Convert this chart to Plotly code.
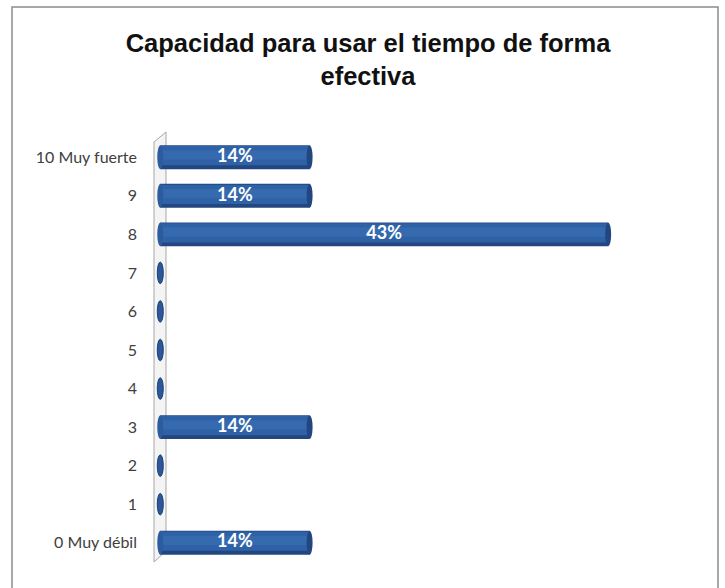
import plotly.graph_objects as go

# ---- data ----
categories = ["0 Muy débil", "1", "2", "3", "4", "5", "6", "7", "8", "9", "10 Muy fuerte"]
percentages = [14.29, 0, 0, 14.29, 0, 0, 0, 0, 42.86, 14.29, 14.29]
labels = [f"{v:.0f}%" if v > 0 else "" for v in percentages]
title_text = "Capacidad para usar el tiempo de forma<br>efectiva"

# ---- layout geometry ----
FW, FH = 725, 588
L, R, T, B = 154, 25, 138, 26
PW, PH = FW - L - R, FH - T - B
PX_PER_UNIT = 10.45
x_min = -0.6
x_max = x_min + PW / PX_PER_UNIT
BAR_W = 0.62
CAP_HALF = 3 / PX_PER_UNIT


def px(p):
    return (p - L) / PW


def py(p):
    return 1 - (p - T) / PH


fig = go.Figure()

# dark base of the cylinder
fig.add_trace(go.Bar(
    y=categories, x=percentages, orientation="h",
    width=BAR_W, marker=dict(color="#22467F", line=dict(width=0)),
    hoverinfo="skip", showlegend=False,
))
# body
fig.add_trace(go.Bar(
    y=categories, x=percentages, orientation="h",
    width=0.50, offset=-0.50 / 2 + 0.04,
    marker=dict(color="#2F61A6", line=dict(width=0)),
    hoverinfo="skip", showlegend=False,
))
# lighter highlight band
fig.add_trace(go.Bar(
    y=categories, x=percentages, orientation="h",
    width=0.24, offset=-0.24 / 2 + 0.06,
    marker=dict(color="#366AAF", line=dict(width=0)),
    text=labels, textposition="inside", insidetextanchor="middle",
    constraintext="none",
    textfont=dict(color="white", size=18, family="Lato", weight="bold"),
    textangle=0, showlegend=False,
))

shapes = []
# wall (thin 3D slab on the left)
wall_pts = [(154, 562), (154, 142), (166, 132), (166, 551)]
path = "M " + " L ".join(f"{px(x)},{py(y)}" for x, y in wall_pts) + " Z"
shapes.append(dict(type="path", xref="paper", yref="paper", path=path,
                   fillcolor="#F4F4F4", line=dict(color="#A6A6A6", width=1), layer="below"))
# outer frame
shapes.append(dict(type="rect", xref="paper", yref="paper",
                   x0=px(12), x1=px(718), y0=py(592), y1=py(7),
                   line=dict(color="#8C8C8C", width=1.5), fillcolor="rgba(0,0,0,0)", layer="below"))

# cylinder end caps
for i, v in enumerate(percentages):
    if v > 0:
        shapes.append(dict(type="circle", xref="x", yref="y",
                           x0=v - CAP_HALF, x1=v + CAP_HALF,
                           y0=i - BAR_W / 2, y1=i + BAR_W / 2,
                           fillcolor="#22467F", line=dict(width=0), layer="above"))
        shapes.append(dict(type="circle", xref="x", yref="y",
                           x0=-CAP_HALF, x1=CAP_HALF,
                           y0=i - BAR_W / 2, y1=i + BAR_W / 2,
                           fillcolor="#2D5C9E", line=dict(width=0), layer="above"))
    else:
        shapes.append(dict(type="circle", xref="x", yref="y",
                           x0=v - CAP_HALF, x1=v + CAP_HALF,
                           y0=i - 0.28, y1=i + 0.28,
                           fillcolor="#2A5898", line=dict(color="#1B3F78", width=1), layer="above"))

fig.update_layout(
    width=FW, height=FH,
    margin=dict(l=L, r=R, t=T, b=B),
    paper_bgcolor="white", plot_bgcolor="rgba(0,0,0,0)",
    barmode="overlay",
    title=dict(text=title_text, x=368 / FW, xref="container", xanchor="center",
               y=1 - 52 / FH, yref="container", yanchor="top",
               font=dict(family="Liberation Sans", size=25.5, color="#111111", weight="bold")),
    xaxis=dict(range=[x_min, x_max], visible=False, showgrid=False, zeroline=False),
    yaxis=dict(categoryorder="array", categoryarray=categories,
               range=[-0.5, len(categories) - 0.5],
               showgrid=False, zeroline=False, showline=False, ticks="",
               automargin=False,
               ticklabelstandoff=16,
               tickfont=dict(family="Lato", size=16, color="#404040")),
    shapes=shapes,
    showlegend=False,
)

fig.write_html("out.html", config={"displayModeBar": False},
               post_script="document.body.style.margin='0';")
